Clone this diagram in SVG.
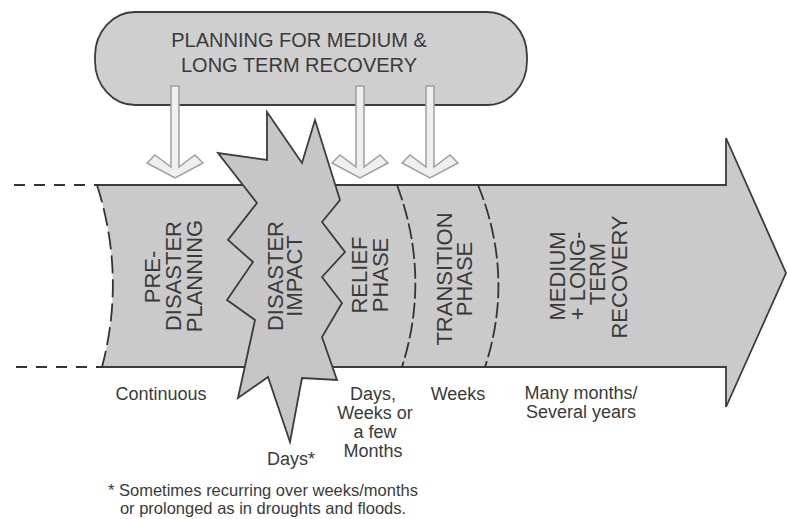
<svg xmlns="http://www.w3.org/2000/svg" width="788" height="519" viewBox="0 0 788 519">
  <style>
    .lbl { font-family: "Liberation Sans", Arial, sans-serif; fill: #3a3a3a; }
    .v { font-size: 22px; text-anchor: middle; }
    .b { font-size: 18px; text-anchor: middle; }
    .dash { fill: none; stroke: #333; stroke-width: 1.8; }
  </style>
  <rect width="788" height="519" fill="#ffffff"/>

  <g id="band">
    <path d="M97,185 L726,185 L726,138 L786,273 L726,407 L726,367 L102,367 Q126,276 97,185 Z" fill="#cacaca"/>
    <path d="M97,185 L726,185 L726,138 L786,273 L726,407 L726,367 L102,367" fill="none" stroke="#3c3c3c" stroke-width="1.8" stroke-linejoin="miter"/>
    <path class="dash" d="M97,185 Q126,276 102,367" stroke-dasharray="18 6"/>
    <path class="dash" d="M14,185 L97,185" stroke-dasharray="11 9"/>
    <path class="dash" d="M16,367 L102,367" stroke-dasharray="11 9"/>
    <path class="dash" d="M397,185 Q431,276 402,367" stroke-dasharray="16 4"/>
    <path class="dash" d="M478,185 Q515,276 485,367" stroke-dasharray="16 4"/>
  </g>

  <g id="box">
    <rect x="95" y="12" width="432" height="93" rx="40" ry="44" fill="#cfcfcf" stroke="#3c3c3c" stroke-width="1.8"/>
    <text class="lbl" x="299" y="47" font-size="20" text-anchor="middle">PLANNING FOR MEDIUM &amp;</text>
    <text class="lbl" x="299" y="72" font-size="20" text-anchor="middle">LONG TERM RECOVERY</text>
  </g>

  <g id="connectors" fill="#efefef" stroke="#a0a0a0" stroke-width="1.5" stroke-linejoin="miter">
    <polygon points="171,86 171,167 155,155 147,163 175,178 203,163 195,155 179,167 179,86"/>
    <polygon points="356,86 356,167 340,155 332,163 360,178 388,163 380,155 364,167 364,86"/>
    <polygon points="426,86 426,167 410,155 402,163 430,178 458,163 450,155 434,167 434,86"/>
  </g>

  <g id="burst">
    <polygon points="267,112 302,163 315,120 340,200 322,222 345,252 322,277 342,303 322,337 337,380 302,378 290,442 268,377 238,398 255,320 227,300 253,262 228,240 257,203 218,153 267,160" fill="#c6c6c6" stroke="#3c3c3c" stroke-width="1.8" stroke-linejoin="miter"/>
  </g>

  <g id="pre-disaster">
    <text class="lbl v" transform="translate(160,277) rotate(-90)">PRE-</text>
    <text class="lbl v" transform="translate(181,276) rotate(-90)">DISASTER</text>
    <text class="lbl v" transform="translate(202,276) rotate(-90)">PLANNING</text>
    <text class="lbl b" x="161" y="400">Continuous</text>
  </g>

  <g id="impact">
    <text class="lbl v" transform="translate(283,276) rotate(-90)">DISASTER</text>
    <text class="lbl v" transform="translate(302,276) rotate(-90)">IMPACT</text>
    <text class="lbl b" x="291" y="465">Days*</text>
  </g>

  <g id="relief">
    <text class="lbl v" transform="translate(367,275) rotate(-90)">RELIEF</text>
    <text class="lbl v" transform="translate(388,275) rotate(-90)">PHASE</text>
    <text class="lbl b" x="373" y="400">Days,</text>
    <text class="lbl b" x="375" y="419">Weeks or</text>
    <text class="lbl b" x="375" y="438">a few</text>
    <text class="lbl b" x="373" y="457">Months</text>
  </g>

  <g id="transition">
    <text class="lbl v" transform="translate(452,279) rotate(-90)">TRANSITION</text>
    <text class="lbl v" transform="translate(472,279) rotate(-90)">PHASE</text>
    <text class="lbl b" x="458" y="400">Weeks</text>
  </g>

  <g id="recovery">
    <text class="lbl v" transform="translate(565,276) rotate(-90)">MEDIUM</text>
    <text class="lbl v" transform="translate(585,276) rotate(-90)">+ LONG-</text>
    <text class="lbl v" transform="translate(605,274) rotate(-90)">TERM</text>
    <text class="lbl v" transform="translate(627,277) rotate(-90)">RECOVERY</text>
    <text class="lbl b" x="581" y="399">Many months/</text>
    <text class="lbl b" x="581" y="418">Several years</text>
  </g>

  <g id="footnote">
    <text class="lbl" x="263" y="496" font-size="16.5" text-anchor="middle">* Sometimes recurring over weeks/months</text>
    <text class="lbl" x="263" y="514" font-size="16.5" text-anchor="middle">or prolonged as in droughts and floods.</text>
  </g>
</svg>
